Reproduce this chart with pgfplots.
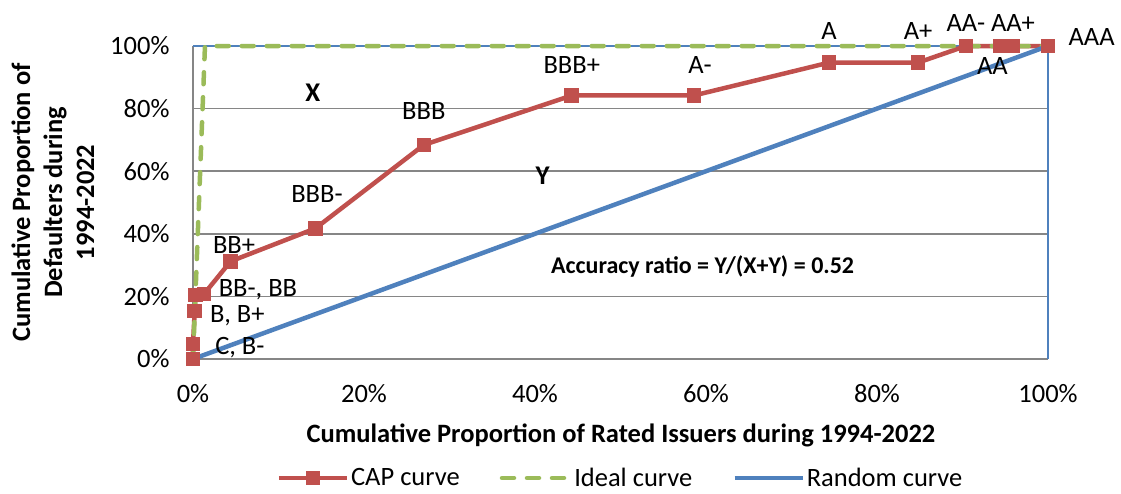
\documentclass[border=0pt]{standalone}
\usepackage{fontspec}
\setmainfont{Carlito}
\usepackage{pgfplots}
\pgfplotsset{compat=1.18}

\definecolor{capred}{RGB}{192,80,77}
\definecolor{idealgreen}{RGB}{155,187,89}
\definecolor{randblue}{RGB}{79,129,189}
\definecolor{gridgray}{RGB}{134,134,134}

\begin{document}
\begin{tikzpicture}[font=\fontsize{26.5}{31}\selectfont]
\begin{axis}[
  at={(0,0)}, anchor=south west,
  scale only axis, width=855pt, height=313pt,
  xmin=0, xmax=100, ymin=0, ymax=100,
  clip=false,
  axis lines*=left,
  axis line style={gridgray, line width=1.5pt},
  x axis line style={-}, y axis line style={-},
  xtick={0,20,...,100}, ytick={0,20,...,100},
  xticklabels={0\%,20\%,40\%,60\%,80\%,100\%},
  yticklabels={0\%,20\%,40\%,60\%,80\%,100\%},
  major tick length=0pt,
  ymajorgrids, grid style={gridgray, line width=1.5pt},
  xticklabel style={yshift=-22pt},
  yticklabel style={xshift=-20pt},
  legend columns=3,
  legend style={at={(0.5,-119pt)}, anchor=center, draw=none,
    /tikz/every even column/.append style={column sep=38pt}},
  legend image code/.code={\draw[mark repeat=2, mark phase=2, #1] plot coordinates {(0pt,0pt) (34pt,0pt) (68pt,0pt)};},
]
\addplot[randblue, line width=1.5pt, forget plot] coordinates {(0,100) (100,100) (100,0)};
\addplot[capred, line width=4.5pt, mark=square*, mark size=6.8pt,
  mark options={solid, capred, line width=1pt}] coordinates {
  (0,0) (0,4.8) (0.2,15.3) (0.3,20.4) (1.3,20.8) (4.4,31.2) (14.3,41.7)
  (27.0,68.4) (44.3,84.2) (58.6,84.2) (74.4,94.7) (84.8,94.7)
  (90.4,100) (94.4,100) (95.9,100) (100,100)};
\addlegendentry{CAP curve}
\addplot[idealgreen, line width=4.5pt, dash pattern=on 12pt off 13pt, line cap=round] coordinates {
  (0,0) (1.4,100) (100,100)};
\addlegendentry{Ideal curve}
\addplot[randblue, line width=4.5pt] coordinates {(0,0) (100,100)};
\addlegendentry{Random curve}

\node[anchor=west] at (axis cs:2.2,3.8) {C, B-};
\node[anchor=west] at (axis cs:1.6,13.7) {B, B+};
\node[anchor=west] at (axis cs:2.6,22) {BB-, BB};
\node at (axis cs:4.8,36.4) {BB+};
\node at (axis cs:14.5,52.7) {BBB-};
\node at (axis cs:27,79.2) {BBB};
\node at (axis cs:44.3,93.9) {BBB+};
\node at (axis cs:59.3,93.9) {A-};
\node at (axis cs:74.4,104.8) {A};
\node at (axis cs:84.8,104.8) {A+};
\node at (axis cs:90.4,107.3) {AA-};
\node at (axis cs:95.9,107.3) {AA+};
\node at (axis cs:105.1,102.9) {AAA};
\node at (axis cs:93.5,93.6) {AA};
\node[font=\fontsize{27}{31}\selectfont\bfseries] at (axis cs:14,85) {X};
\node[font=\fontsize{27}{31}\selectfont\bfseries] at (axis cs:40.9,58.5) {Y};
\node[font=\fontsize{24}{28}\selectfont\bfseries] at (axis cs:59.6,29.7) {Accuracy ratio = Y/(X+Y) = 0.52};
\end{axis}
\node[font=\fontsize{26.5}{31}\selectfont\bfseries] at (428pt,-76pt) {Cumulative Proportion of Rated Issuers during 1994-2022};
\node[rotate=90, align=center, font=\fontsize{26.5}{32}\selectfont\bfseries] at (-140pt,156.5pt)
  {Cumulative Proportion of\\Defaulters during\\1994-2022};
\pgfresetboundingbox
\path (-193pt,-134pt) rectangle (928pt,359pt);
\end{tikzpicture}
\end{document}
